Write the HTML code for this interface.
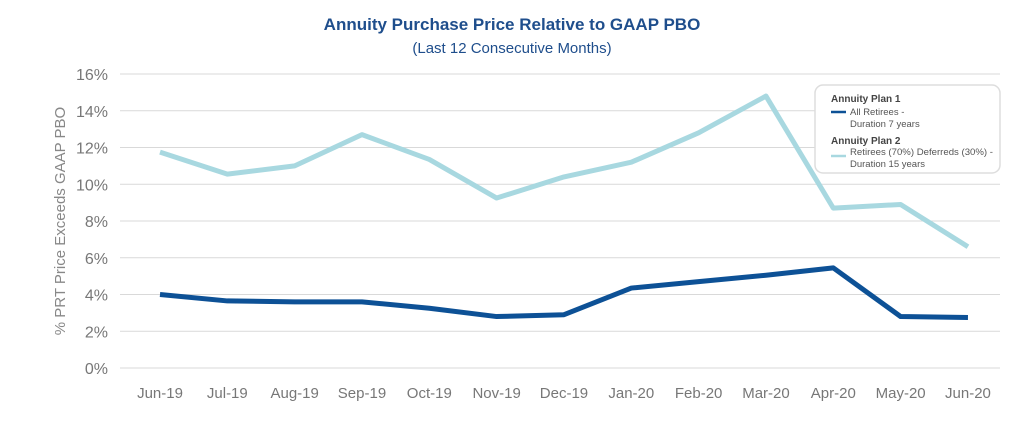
<!DOCTYPE html>
<html><head><meta charset="utf-8"><style>
body{margin:0;background:#fff;width:1024px;height:429px;overflow:hidden;font-family:"Liberation Sans",sans-serif}
</style></head><body>
<svg id="chart" width="1024" height="429">
<text x="512" y="30" text-anchor="middle" font-size="17" font-weight="bold" fill="#1f4e8c">Annuity Purchase Price Relative to GAAP PBO</text>
<text x="512" y="53" text-anchor="middle" font-size="15" fill="#1f4e8c">(Last 12 Consecutive Months)</text>
<text transform="translate(65,221) rotate(-90)" text-anchor="middle" font-size="15" fill="#888">% PRT Price Exceeds GAAP PBO</text>
<g id="grid"></g><g id="lines"></g>
<g>
<rect x="815" y="85" width="185" height="88" rx="8" fill="#fff" stroke="#ddd" stroke-width="1.5"/>
<text x="831" y="102" font-size="10" font-weight="bold" fill="#444">Annuity Plan 1</text>
<line x1="831" y1="112" x2="846" y2="112" stroke="#0d5196" stroke-width="2.5"/>
<text x="850" y="115" font-size="9.5" fill="#555">All Retirees -</text>
<text x="850" y="127" font-size="9.5" fill="#555">Duration 7 years</text>
<text x="831" y="144" font-size="10" font-weight="bold" fill="#444">Annuity Plan 2</text>
<line x1="831" y1="156" x2="846" y2="156" stroke="#a8d8e0" stroke-width="2.5"/>
<text x="850" y="155" font-size="9.5" fill="#555" textLength="143" lengthAdjust="spacingAndGlyphs">Retirees (70%) Deferreds (30%) -</text>
<text x="850" y="167" font-size="9.5" fill="#555">Duration 15 years</text>
</g>
</svg>
<script>
const categories=["Jun-19","Jul-19","Aug-19","Sep-19","Oct-19","Nov-19","Dec-19","Jan-20","Feb-20","Mar-20","Apr-20","May-20","Jun-20"];
const plan1=[4.0,3.65,3.6,3.6,3.25,2.8,2.9,4.35,4.7,5.05,5.45,2.8,2.75];
const plan2=[11.75,10.55,11.0,12.7,11.35,9.25,10.4,11.2,12.8,14.8,8.7,8.9,6.6];
const yTicks=[0,2,4,6,8,10,12,14,16];
const NS="http://www.w3.org/2000/svg";
const x=i=>160+i*67.33;
const y=v=>368-v*18.375;
const grid=document.getElementById('grid'),lines=document.getElementById('lines');
yTicks.forEach(t=>{
 const l=document.createElementNS(NS,'line');
 l.setAttribute('x1',120);l.setAttribute('x2',1000);l.setAttribute('y1',y(t));l.setAttribute('y2',y(t));
 l.setAttribute('stroke','#d9d9d9');
 
 
 grid.appendChild(l);
 const tx=document.createElementNS(NS,'text');
 tx.setAttribute('x',108);tx.setAttribute('y',y(t)+6);tx.setAttribute('text-anchor','end');
 tx.setAttribute('font-size','16');tx.setAttribute('fill','#777');tx.textContent=t+'%';
 
 
 grid.appendChild(tx);
});
categories.forEach((c,i)=>{
 const tx=document.createElementNS(NS,'text');
 tx.setAttribute('x',x(i));tx.setAttribute('y',398);tx.setAttribute('text-anchor','middle');
 tx.setAttribute('font-size','15');tx.setAttribute('fill','#777');tx.textContent=c;
 
 
 grid.appendChild(tx);
});
[[plan2,'#a8d8e0','plan2-line'],[plan1,'#0d5196','plan1-line']].forEach(([d,col,n])=>{
 const p=document.createElementNS(NS,'polyline');
 p.setAttribute('points',d.map((v,i)=>x(i)+','+y(v)).join(' '));
 p.setAttribute('fill','none');p.setAttribute('stroke',col);p.setAttribute('stroke-width','5');
 p.setAttribute('stroke-linejoin','round');
 
 
 lines.appendChild(p);
});
</script>
</body></html>
